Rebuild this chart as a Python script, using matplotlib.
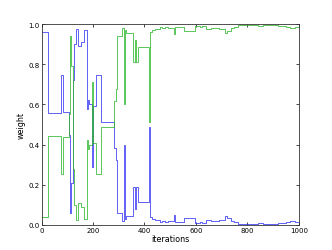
import matplotlib
matplotlib.use("Agg")
import matplotlib.pyplot as plt

# step data: iteration where each level starts
iters = [0, 26, 75, 83, 106, 110, 116, 121, 125, 133, 140, 155, 165, 177, 182,
         186, 198, 201, 213, 233, 282, 288, 293, 312, 321, 323, 330, 356, 362,
         366, 375, 416, 420, 430, 440, 460, 470, 480, 490, 515, 520, 553, 598,
         615, 625, 640, 660, 690, 714, 722, 735, 750, 762, 800, 840, 860, 918,
         950, 964, 985, 1000]

w_blue = [0.963, 0.557, 0.745, 0.563, 0.45, 0.06, 0.21, 0.72, 0.9, 0.978, 0.89,
          0.91, 0.97, 0.575, 0.62, 0.6, 0.29, 0.59, 0.745, 0.51, 0.383, 0.325,
          0.058, 0.017, 0.40, 0.03, 0.042, 0.19, 0.08, 0.19, 0.115, 0.49, 0.04,
          0.03, 0.025, 0.013, 0.02, 0.012, 0.02, 0.05, 0.012, 0.035, 0.008,
          0.015, 0.01, 0.022, 0.018, 0.025, 0.045, 0.035, 0.02, 0.012, 0.006,
          0.005, 0.007, 0.005, 0.009, 0.014, 0.02, 0.015, 0.015]

w_green = [0.037, 0.443, 0.255, 0.437, 0.55, 0.94, 0.79, 0.28, 0.1, 0.022, 0.11,
           0.09, 0.03, 0.425, 0.38, 0.4, 0.71, 0.41, 0.255, 0.49, 0.617, 0.675,
           0.942, 0.983, 0.60, 0.97, 0.958, 0.81, 0.92, 0.81, 0.885, 0.51, 0.96,
           0.97, 0.975, 0.987, 0.98, 0.988, 0.98, 0.95, 0.988, 0.965, 0.992,
           0.985, 0.99, 0.978, 0.982, 0.975, 0.955, 0.965, 0.98, 0.988, 0.994,
           0.995, 0.993, 0.995, 0.991, 0.986, 0.98, 0.985, 0.985]

xticks = [0, 200, 400, 600, 800, 1000]
yticks = [0.0, 0.2, 0.4, 0.6, 0.8, 1.0]

fig = plt.figure(figsize=(3.32, 2.51), dpi=100)
ax = fig.add_axes([0.125, 0.1, 0.775, 0.8])

ax.step(iters, w_blue, where='post', color='#3535f5', lw=0.55)
ax.step(iters, w_green, where='post', color='#2eb82e', lw=0.55)

ax.set_xlim(0, 1000)
ax.set_ylim(0, 1)
ax.set_xticks(xticks)
ax.set_yticks(yticks)
ax.set_yticklabels(['%.1f' % v for v in yticks])
ax.tick_params(direction='in', length=2.2, width=0.5, labelsize=5,
               top=True, right=True, pad=1.5)
for s in ax.spines.values():
    s.set_linewidth(0.6)
    s.set_color('#333333')

ax.set_xlabel('iterations', fontsize=5.8, labelpad=0.5)
ax.set_ylabel('weight', fontsize=5.8, labelpad=2)

fig.savefig('out.png', dpi=100)
